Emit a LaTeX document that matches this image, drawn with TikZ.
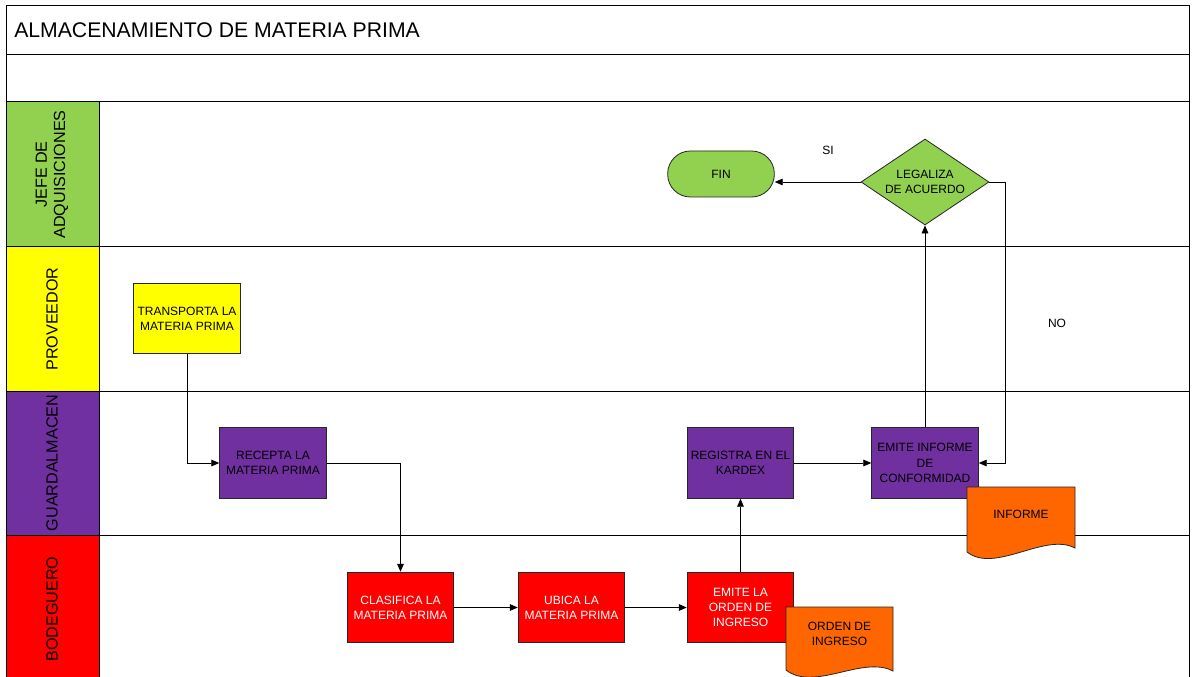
\documentclass[tikz,border=0pt]{standalone}
\usepackage{fontspec}
\setmainfont{Liberation Sans}
\usetikzlibrary{shapes.geometric,arrows.meta}

\definecolor{jefeGreen}{RGB}{146,208,80}
\definecolor{provYellow}{RGB}{255,255,0}
\definecolor{guardPurple}{RGB}{112,48,160}
\definecolor{bodeRed}{RGB}{255,0,0}
\definecolor{docOrange}{RGB}{255,102,0}

\tikzset{
  procbox/.style={draw=black!85, line width=0.6pt, minimum width=80pt, minimum height=53pt,
    inner sep=1pt, align=center, font=\fontsize{9}{11.4}\selectfont},
  lanelabel/.style={rotate=90, align=center, font=\fontsize{12.1}{13.6}\selectfont},
  doctext/.style={align=center, inner sep=0.75pt, font=\fontsize{9}{11.4}\selectfont},
  flow/.style={line width=0.6pt, -{Triangle[length=6pt,width=5pt]}}
}

\begin{document}
\begin{tikzpicture}[x=0.75pt,y=0.75pt,yscale=-1,xscale=1]
\useasboundingbox (0,0) rectangle (1195,677);
\clip (0,0) rectangle (1195,677);

%Shape: lane headers
\filldraw[fill=jefeGreen, line width=0.75pt] (6,102) rectangle (99,247);
\filldraw[fill=provYellow, line width=0.75pt] (6,247) rectangle (99,391);
\filldraw[fill=guardPurple, line width=0.75pt] (6,391) rectangle (99,535);
\filldraw[fill=bodeRed, line width=0.75pt] (6,535) rectangle (99,690);

%Shape: frame and lane lines
\draw[line width=0.75pt] (6,690) -- (6,6) -- (1189,6) -- (1189,690);
\foreach \y in {55,102,247,391,535} {
  \draw[line width=0.75pt] (6,\y) -- (1189,\y);
}

% Text Node
\node[anchor=west, inner sep=0.75pt, font=\fontsize{15.9}{18}\selectfont] (title) at (13,30) {ALMACENAMIENTO DE MATERIA PRIMA};
% Lane labels
\node[lanelabel] (lblJefe) at (52,174.5) {JEFE DE\\ADQUISICIONES};
\node[lanelabel] (lblProv) at (52,319) {PROVEEDOR};
\node[lanelabel] (lblGuard) at (52,463) {GUARDALMACEN};
\node[lanelabel] (lblBode) at (52,609) {BODEGUERO};

% Process nodes
\node[procbox, fill=jefeGreen, rounded corners=17pt, minimum height=34.5pt] (fin) at (721,174) {FIN};
\node[procbox, fill=jefeGreen, shape=diamond, aspect=1.5, inner sep=0pt, minimum width=96pt, minimum height=64.5pt] (legaliza) at (925,182) {LEGALIZA\\DE ACUERDO};
\node[procbox, fill=provYellow] (transporta) at (187,318.5) {TRANSPORTA LA\\MATERIA PRIMA};
\node[procbox, fill=guardPurple] (recepta) at (273,463) {RECEPTA LA\\MATERIA PRIMA};
\node[procbox, fill=guardPurple] (registra) at (740.5,463) {REGISTRA EN EL\\KARDEX};
\node[procbox, fill=guardPurple] (emiteInf) at (925,463) {EMITE INFORME\\DE\\CONFORMIDAD};
\node[procbox, fill=bodeRed, text=white] (clasifica) at (400.5,607.5) {CLASIFICA LA\\MATERIA PRIMA};
\node[procbox, fill=bodeRed, text=white] (ubica) at (571.5,607.5) {UBICA LA\\MATERIA PRIMA};
\node[procbox, fill=bodeRed, text=white] (emiteOrd) at (740.5,607.5) {EMITE LA\\ORDEN DE\\INGRESO};

%Shape: documents
\filldraw[fill=docOrange, draw=black!85, line width=0.6pt] (967,487) -- (1075,487) -- (1075,548) .. controls (1045,532) and (995,574) .. (967,552) -- cycle;
\node[doctext] (informe) at (1021,514) {INFORME};
\filldraw[fill=docOrange, draw=black!85, line width=0.6pt] (786,607) -- (893,607) -- (893,671) .. controls (863,655) and (814,692) .. (786,670) -- cycle;
\node[doctext] (ordenIng) at (839.5,634) {ORDEN DE\\INGRESO};

% Connectors
\draw[flow] (transporta.south) |- (recepta.west);
\draw[flow] (recepta.east) -| (clasifica.north);
\draw[flow] (clasifica) -- (ubica);
\draw[flow] (ubica) -- (emiteOrd);
\draw[flow] (emiteOrd) -- (registra);
\draw[flow] (registra) -- (emiteInf);
\draw[flow] (emiteInf) -- (legaliza);
\draw[flow] (legaliza.west) -- (fin.east |- legaliza.west);
\coordinate (noTurn) at (1005,182);
\draw[flow] (legaliza.east) -- (noTurn) |- (emiteInf.east);

% Text Node
\node[inner sep=0.75pt, font=\fontsize{9}{11.4}\selectfont] (si) at (828,150) {SI};
\node[inner sep=0.75pt, font=\fontsize{9}{11.4}\selectfont] (no) at (1057,323) {NO};

\end{tikzpicture}
\end{document}
